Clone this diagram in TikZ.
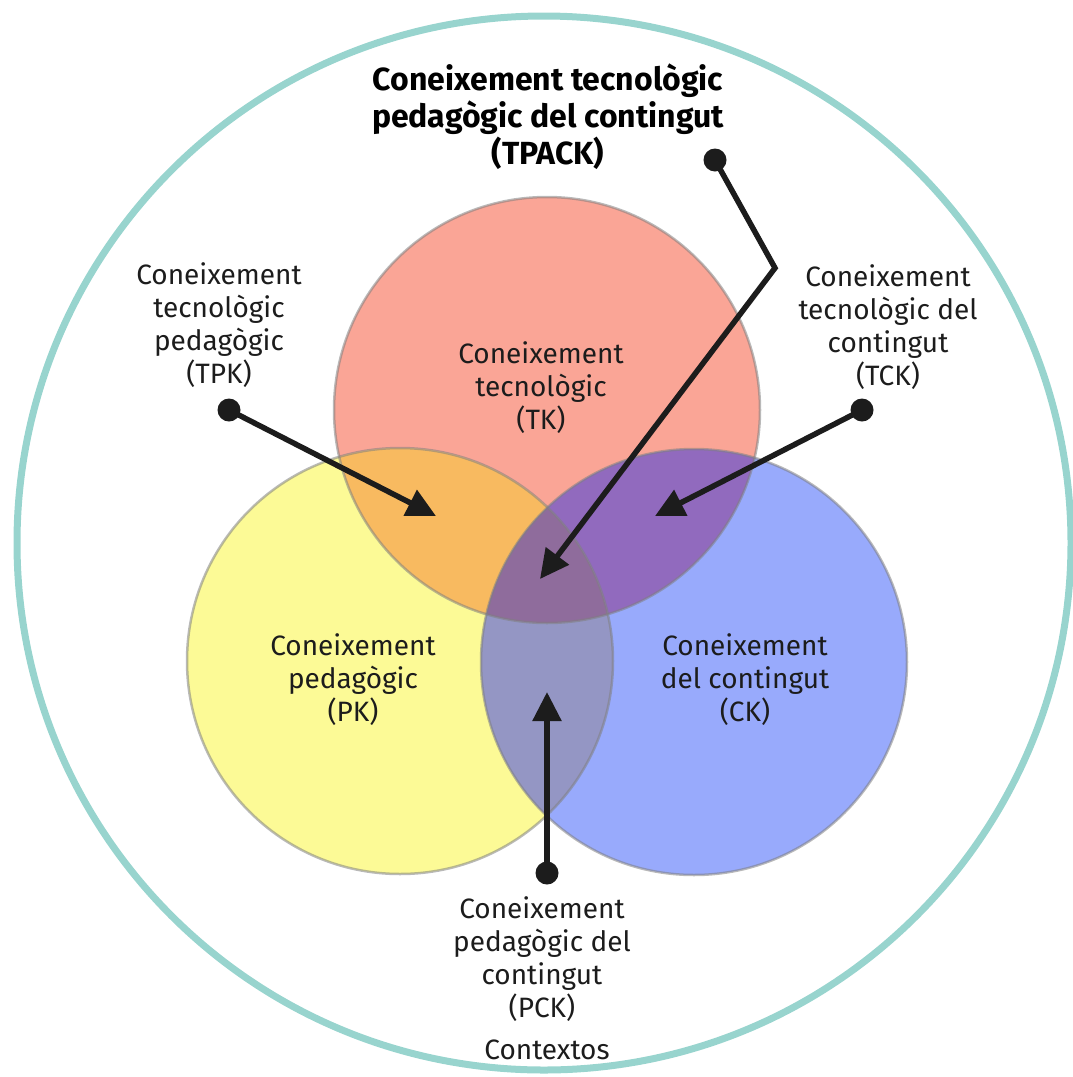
\documentclass[tikz,border=0pt]{standalone}
\usepackage{fontspec}
\setmainfont{Fira Sans}
\usetikzlibrary{arrows.meta}

\definecolor{tkred}{RGB}{250,165,150}
\definecolor{pkyellow}{RGB}{252,250,150}
\definecolor{ckblue}{RGB}{152,170,252}
\definecolor{tpkorange}{RGB}{248,186,96}
\definecolor{tckpurple}{RGB}{145,106,190}
\definecolor{pckgrey}{RGB}{148,150,196}
\definecolor{tpackmauve}{RGB}{143,108,156}
\definecolor{contextteal}{RGB}{152,212,206}
\definecolor{ink}{RGB}{28,28,28}

\begin{document}
\begin{tikzpicture}[x=1pt,y=-1pt,>={Triangle[length=29pt,width=28pt]}]
    \tikzstyle{label}=[align=center,text=ink,font=\fontsize{28}{33}\selectfont]
    \tikzstyle{title}=[align=center,text=black,font=\bfseries\fontsize{32}{37}\selectfont]
    \tikzstyle{dot}=[circle,fill=ink,inner sep=0pt,minimum size=23pt]
    \tikzstyle{pointer}=[->,draw=ink,line width=5.5pt]
    \tikzstyle{ring}=[draw=gray,draw opacity=0.55,line width=2.5pt]

    \useasboundingbox (0,0) rectangle (1072,1077);

    % contexts
    \coordinate (ctx) at (544,543);
    \draw[contextteal,line width=7pt] (ctx) circle (527);

    % the three circles
    \coordinate (tk) at (547,410);
    \coordinate (pk) at (400,661);
    \coordinate (ck) at (694,662);

    \fill[tkred]    (tk) circle (213);
    \fill[pkyellow] (pk) circle (213);
    \fill[ckblue]   (ck) circle (213);
    \begin{scope}
        \clip (tk) circle (213);
        \fill[tpkorange] (pk) circle (213);
        \fill[tckpurple] (ck) circle (213);
    \end{scope}
    \begin{scope}
        \clip (pk) circle (213);
        \fill[pckgrey] (ck) circle (213);
        \clip (tk) circle (213);
        \fill[tpackmauve] (ck) circle (213);
    \end{scope}
    \draw[ring] (tk) circle (213);
    \draw[ring] (pk) circle (213);
    \draw[ring] (ck) circle (213);

    % labels
    \node[title] (tpack) at (548,117) {Coneixement tecnològic\\pedagògic del contingut\\(TPACK)};
    \node[label] (tklab)  at (541,388) {Coneixement\\tecnològic\\(TK)};
    \node[label] (pklab)  at (353,680) {Coneixement\\pedagògic\\(PK)};
    \node[label] (cklab)  at (745,680) {Coneixement\\del contingut\\(CK)};
    \node[label] (tpklab) at (219,325) {Coneixement\\tecnològic\\pedagògic\\(TPK)};
    \node[label] (tcklab) at (888,327) {Coneixement\\tecnològic del\\contingut\\(TCK)};
    \node[label] (pcklab) at (542,959) {Coneixement\\pedagògic del\\contingut\\(PCK)};
    \node[label] (ctxlab) at (547,1050) {Contextos};

    % pointers
    \node[dot] (tpkdot)   at (229,410) {};
    \node[dot] (tckdot)   at (862,410) {};
    \node[dot] (tpackdot) at (715,160) {};
    \node[dot] (pckdot)   at (547,873) {};
    \coordinate (tpktip)    at (436,516);
    \coordinate (tcktip)    at (655,516);
    \coordinate (tpackbend) at (775,268);
    \coordinate (tpacktip)  at (540,579);
    \coordinate (pcktip)    at (547,692);

    \draw[pointer] (tpkdot.center) -- (tpktip);
    \draw[pointer] (tckdot.center) -- (tcktip);
    \draw[pointer] (tpackdot.center) -- (tpackbend) -- (tpacktip);
    \draw[pointer] (pckdot.center) -- (pcktip);
\end{tikzpicture}
\end{document}
